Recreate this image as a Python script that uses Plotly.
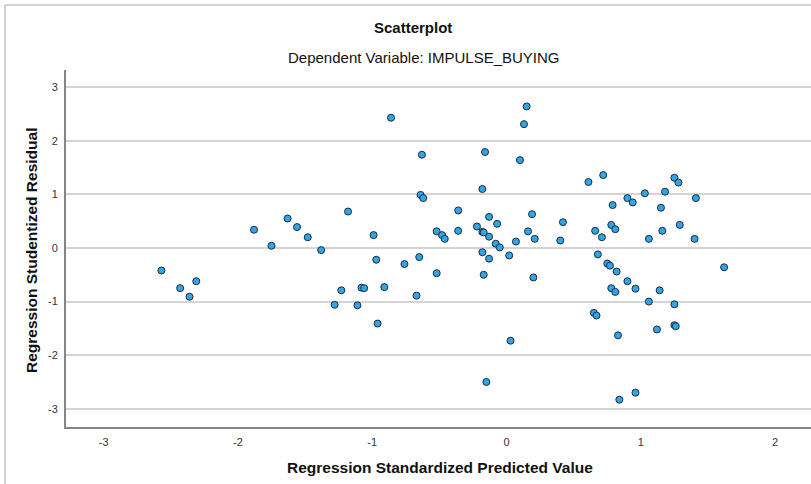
import plotly.graph_objects as go

# Data
pred_x = [-2.57, -2.43, -2.36, -2.31, -1.88, -1.75, -1.63, -1.56, -1.48, -1.38,
          -1.18, -0.99, -0.97, -1.23, -1.28, -1.11, -1.08, -1.06, -0.91, -0.96,
          -0.86, -0.76, -0.67, -0.65, -0.63, -0.64, -0.62, -0.52, -0.52, -0.48,
          -0.46, -0.36, -0.36, -0.22, -0.18, -0.16, -0.18, -0.13, -0.13, -0.18,
          -0.13, -0.17, -0.07, -0.08, -0.05, 0.02, 0.03, -0.15, 0.07, 0.10,
          0.13, 0.15, 0.16, 0.19, 0.21, 0.20, 0.40, 0.42, 0.61, 0.72,
          0.66, 0.71, 0.68, 0.75, 0.77, 0.82, 0.79, 0.78, 0.81, 0.78,
          0.81, 0.65, 0.67, 0.83, 0.84, 0.96, 0.90, 0.96, 0.90, 0.94,
          1.03, 1.06, 1.06, 1.12, 1.14, 1.15, 1.16, 1.18, 1.25, 1.28,
          1.29, 1.25, 1.25, 1.26, 1.41, 1.40, 1.62, -0.17]
resid_y = [-0.42, -0.75, -0.91, -0.62, 0.34, 0.04, 0.55, 0.39, 0.20, -0.04,
           0.68, 0.24, -0.22, -0.79, -1.06, -1.07, -0.74, -0.75, -0.73, -1.41,
           2.43, -0.30, -0.89, -0.17, 1.74, 0.99, 0.93, -0.47, 0.31, 0.24,
           0.17, 0.70, 0.32, 0.40, 1.10, 1.79, 0.30, 0.58, 0.21, -0.08,
           -0.20, -0.50, 0.45, 0.08, 0.01, -0.14, -1.73, -2.50, 0.12, 1.64,
           2.31, 2.64, 0.31, 0.63, 0.17, -0.55, 0.14, 0.48, 1.23, 1.36,
           0.32, 0.20, -0.12, -0.29, -0.33, -0.44, 0.80, 0.43, 0.35, -0.75,
           -0.82, -1.21, -1.26, -1.63, -2.83, -2.70, -0.62, -0.76, 0.93, 0.85,
           1.02, 0.17, -1.00, -1.52, -0.79, 0.75, 0.32, 1.05, 1.31, 1.22,
           0.43, -1.05, -1.44, -1.46, 0.93, 0.17, -0.36, 0.29]

x_ticks = [-3, -2, -1, 0, 1, 2]
y_ticks = [-3, -2, -1, 0, 1, 2, 3]

title_text = "Scatterplot"
subtitle_text = "Dependent Variable: IMPULSE_BUYING"
x_title = "Regression Standardized Predicted Value"
y_title = "Regression Studentized Residual"

FONT = "Arial, Liberation Sans, sans-serif"

fig = go.Figure()
fig.add_trace(go.Scatter(
    x=pred_x, y=resid_y, mode="markers",
    marker=dict(size=7, color="#2ea6ec", line=dict(color="#1f2a33", width=1)),
    hoverinfo="x+y", showlegend=False,
))

W, H = 811, 484
ml, mr, mt, mb = 66, 0, 70, 57
pw, ph = W - ml - mr, H - mt - mb

def px_to_paper_x(px):
    return (px - ml) / pw

def py_to_paper_y(py):
    return (H - mb - py) / ph

fig.update_layout(
    width=W, height=H,
    margin=dict(l=ml, r=mr, t=mt, b=mb, pad=0),
    paper_bgcolor="white", plot_bgcolor="white",
    font=dict(family=FONT, color="#222"),
    xaxis=dict(
        range=[-3.28, 2.267], tickvals=x_ticks, ticktext=[str(v) for v in x_ticks],
        showgrid=False, zeroline=False, showline=True, linecolor="#858585", linewidth=2,
        ticks="", tickfont=dict(size=11, color="#333"), ticklabelstandoff=4,
    ),
    yaxis=dict(
        range=[-3.34, 3.32], tickvals=y_ticks, ticktext=[str(v) for v in y_ticks],
        showgrid=True, gridcolor="#d4d4d4", gridwidth=1.5, zeroline=False,
        showline=True, linecolor="#858585", linewidth=2,
        ticks="", tickfont=dict(size=11, color="#333"), ticklabelstandoff=4,
    ),
    annotations=[
        dict(text=f"<b>{title_text}</b>", xref="paper", yref="paper",
             x=px_to_paper_x(413), y=py_to_paper_y(28), xanchor="center", yanchor="middle",
             showarrow=False, font=dict(size=15, color="#111")),
        dict(text=subtitle_text, xref="paper", yref="paper",
             x=px_to_paper_x(423.5), y=py_to_paper_y(58), xanchor="center", yanchor="middle",
             showarrow=False, font=dict(size=15, color="#111")),
        dict(text=f"<b>{x_title}</b>", xref="paper", yref="paper",
             x=px_to_paper_x(439.5), y=py_to_paper_y(467), xanchor="center", yanchor="middle",
             showarrow=False, font=dict(size=15.5, color="#111")),
        dict(text=f"<b>{y_title}</b>", xref="paper", yref="paper",
             x=px_to_paper_x(31), y=py_to_paper_y(251), xanchor="center", yanchor="middle",
             textangle=-90, showarrow=False, font=dict(size=15.5, color="#111")),
    ],
    shapes=[
        dict(type="line", xref="paper", yref="paper",
             x0=px_to_paper_x(5), x1=px_to_paper_x(5), y0=py_to_paper_y(484), y1=py_to_paper_y(5),
             line=dict(color="#c4c4c4", width=1.5)),
        dict(type="line", xref="paper", yref="paper",
             x0=px_to_paper_x(5), x1=px_to_paper_x(811), y0=py_to_paper_y(5), y1=py_to_paper_y(5),
             line=dict(color="#c4c4c4", width=1.5)),
    ],
)

fig.write_html("out.html", config={"displayModeBar": False},
               post_script="document.body.style.margin='0px';")
